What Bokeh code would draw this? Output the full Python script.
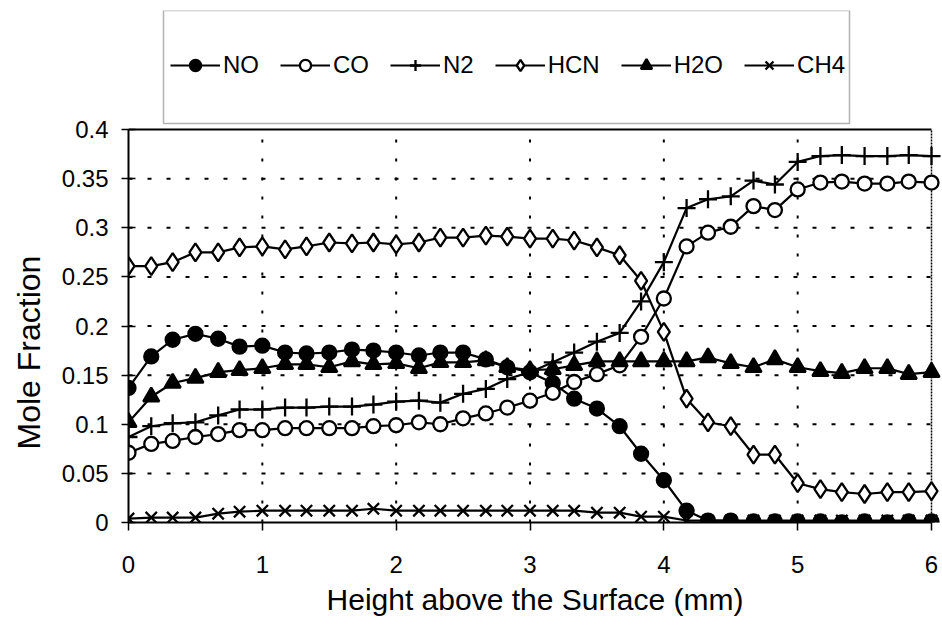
from bokeh.plotting import figure
from bokeh.models import (Legend, LegendItem, FixedTicker, BoxAnnotation, Range1d,
                          Title)
from bokeh.embed import file_html
from bokeh.resources import INLINE

# ---------------- data ----------------
height_mm = [0.00, 0.17, 0.33, 0.50, 0.67, 0.83, 1.00, 1.17, 1.33, 1.50,
             1.67, 1.83, 2.00, 2.17, 2.33, 2.50, 2.67, 2.83, 3.00, 3.17,
             3.33, 3.50, 3.67, 3.83, 4.00, 4.17, 4.33, 4.50, 4.67, 4.83,
             5.00, 5.17, 5.33, 5.50, 5.67, 5.83, 6.00]

no_frac = [0.137, 0.169, 0.186, 0.192, 0.187, 0.179, 0.180, 0.173, 0.172, 0.173,
           0.176, 0.175, 0.173, 0.170, 0.173, 0.173, 0.166, 0.158, 0.153, 0.142,
           0.126, 0.116, 0.098, 0.070, 0.043, 0.012, 0.002, 0.002, 0.001, 0.001,
           0.001, 0.001, 0.000, 0.001, 0.000, 0.001, 0.001]

co_frac = [0.071, 0.080, 0.083, 0.087, 0.090, 0.094, 0.094, 0.096, 0.096, 0.096,
           0.096, 0.098, 0.099, 0.102, 0.100, 0.106, 0.111, 0.117, 0.124, 0.132,
           0.143, 0.151, 0.160, 0.189, 0.228, 0.281, 0.295, 0.301, 0.322, 0.318,
           0.339, 0.346, 0.347, 0.345, 0.345, 0.347, 0.346]

n2_frac = [0.087, 0.098, 0.101, 0.102, 0.109, 0.115, 0.115, 0.117, 0.117, 0.118,
           0.118, 0.120, 0.123, 0.124, 0.122, 0.131, 0.136, 0.146, 0.153, 0.163,
           0.173, 0.184, 0.193, 0.225, 0.265, 0.320, 0.329, 0.332, 0.348, 0.344,
           0.367, 0.373, 0.374, 0.373, 0.373, 0.374, 0.373]

hcn_frac = [0.261, 0.261, 0.265, 0.275, 0.275, 0.280, 0.281, 0.278, 0.281, 0.285,
            0.284, 0.285, 0.283, 0.285, 0.290, 0.290, 0.292, 0.291, 0.289, 0.289,
            0.287, 0.280, 0.272, 0.246, 0.194, 0.126, 0.102, 0.098, 0.069, 0.069,
            0.040, 0.034, 0.031, 0.029, 0.031, 0.031, 0.032]

h2o_frac = [0.102, 0.128, 0.142, 0.147, 0.153, 0.155, 0.157, 0.161, 0.161, 0.158,
            0.164, 0.161, 0.162, 0.157, 0.163, 0.163, 0.165, 0.158, 0.155, 0.156,
            0.160, 0.164, 0.164, 0.164, 0.164, 0.164, 0.168, 0.162, 0.158, 0.166,
            0.158, 0.154, 0.152, 0.157, 0.157, 0.151, 0.153]

ch4_frac = [0.004, 0.005, 0.005, 0.005, 0.009, 0.011, 0.012, 0.012, 0.012, 0.012,
            0.012, 0.014, 0.012, 0.012, 0.012, 0.012, 0.012, 0.012, 0.012, 0.012,
            0.012, 0.010, 0.010, 0.006, 0.006, 0.002, 0.002, 0.002, 0.002, 0.002,
            0.002, 0.002, 0.002, 0.002, 0.002, 0.002, 0.002]

series_names = ["NO", "CO", "N2", "HCN", "H2O", "CH4"]

x_ticks = [0, 1, 2, 3, 4, 5, 6]
y_ticks = [0, 0.05, 0.1, 0.15, 0.2, 0.25, 0.3, 0.35, 0.4]
y_tick_labels = ["0", "0.05", "0.1", "0.15", "0.2", "0.25", "0.3", "0.35", "0.4"]

x_title = "Height above the Surface (mm)"
y_title = "Mole Fraction"

FONT = "Liberation Sans"

series = [no_frac, co_frac, n2_frac, hcn_frac, h2o_frac, ch4_frac]
markers = ["circle", "circle", "cross", "diamond", "triangle", "x"]
fills = ["black", "white", None, "white", "black", None]
sizes = [14, 14, 18, 18, 16, 16]

# ---------------- layout (page pixels) ----------------
W, H = 942, 627
F_LEFT, PLOT_RIGHT, F_RIGHT = 128, 931, 941   # frame left, data-area right, frame right
F_TOP, PLOT_TOP, F_BOTTOM = 10, 129, 522      # frame top, data-area top, bottom
X_MAX, Y_MAX = 6, 0.4
PX_PER_X = (PLOT_RIGHT - F_LEFT) / X_MAX
PX_PER_Y = (F_BOTTOM - PLOT_TOP) / Y_MAX
X_END = (F_RIGHT - F_LEFT) / PX_PER_X
Y_TOP = (F_BOTTOM - F_TOP) / PX_PER_Y

def px_x(px):
    return (px - F_LEFT) / PX_PER_X

def px_y(py):
    return (F_BOTTOM - py) / PX_PER_Y

p = figure(width=W, height=H, output_backend="svg", toolbar_location=None,
           x_range=Range1d(0, X_END), y_range=Range1d(0, Y_TOP),
           min_border_left=F_LEFT, min_border_right=W - F_RIGHT,
           min_border_top=F_TOP, min_border_bottom=H - F_BOTTOM)
p.background_fill_color = "white"
p.border_fill_color = "white"
p.outline_line_color = None

# axes
p.xaxis.ticker = FixedTicker(ticks=x_ticks)
p.xaxis.bounds = (0, X_MAX)
p.yaxis.ticker = FixedTicker(ticks=y_ticks)
p.yaxis.bounds = (0, Y_MAX)
p.yaxis.major_label_overrides = {t: s for t, s in zip(y_ticks, y_tick_labels)}
for ax in (p.xaxis[0], p.yaxis[0]):
    ax.axis_line_color = "black"
    ax.axis_line_width = 2
    ax.major_tick_line_color = "black"
    ax.major_tick_line_width = 1.5
    ax.minor_tick_line_color = None
    ax.major_label_text_font = FONT
    ax.major_label_text_font_size = "24px"
    ax.major_label_text_color = "black"
    ax.axis_label_text_font = FONT
    ax.axis_label_text_font_style = "normal"
    ax.axis_label_text_color = "black"
p.yaxis.major_tick_in = 7
p.yaxis.major_tick_out = 7
p.yaxis.major_label_standoff = 13
p.xaxis.major_tick_in = 0
p.xaxis.major_tick_out = 8
p.xaxis.major_label_standoff = 25

p.xaxis.axis_label = x_title
p.xaxis.axis_label_text_font_size = "30px"
p.xaxis.axis_label_standoff = 7

# y title in the left panel, shifted along the axis
p.add_layout(Title(text=y_title, align="left", offset=73, vertical_align="top",
                   standoff=20, text_font=FONT, text_font_size="32px",
                   text_font_style="normal", text_color="black"), "left")

# grid lines, drawn only over the data area
p.xgrid.visible = False
p.ygrid.visible = False
inner_x = x_ticks[1:-1]
p.segment(x0=inner_x, y0=[0] * len(inner_x), x1=inner_x, y1=[Y_MAX] * len(inner_x),
          line_color="black", line_width=2, line_dash="3 16")
inner_y = y_ticks[1:-1]
p.segment(x0=[0] * len(inner_y), y0=inner_y, x1=[X_MAX] * len(inner_y), y1=inner_y,
          line_color="black", line_width=2, line_dash="4 15")
# dotted right edge, as in the original
p.segment(x0=[X_MAX], y0=[0], x1=[X_MAX], y1=[Y_MAX],
          line_color="black", line_width=1.5, line_dash="2 1")

# plot-area top border
p.segment(x0=[0], y0=[Y_MAX], x1=[X_MAX], y1=[Y_MAX],
          line_color="black", line_width=1.8)

# ---------------- series ----------------
items = []
for name, ys, mk, fc, sz in zip(series_names, series, markers, fills, sizes):
    ln = p.line(height_mm, ys, line_color="black", line_width=2.2)
    sc = p.scatter(height_mm, ys, marker=mk, size=sz, line_color="black",
                   line_width=2.3, fill_color=fc)
    items.append(LegendItem(label=name, renderers=[ln, sc]))

# ---------------- legend (box + entries above the data area) ----------------
p.add_layout(BoxAnnotation(left=px_x(163), right=px_x(849),
                           top=px_y(10), bottom=px_y(123),
                           fill_color="white", fill_alpha=1.0,
                           line_color="black", line_width=1.5))

legend = Legend(items=items, orientation="horizontal",
                location=(170 - F_LEFT, F_BOTTOM - 79),
                padding=0, margin=0, spacing=21, glyph_width=50, glyph_height=28,
                label_height=28, label_standoff=3,
                border_line_alpha=0, background_fill_alpha=0,
                label_text_font=FONT, label_text_font_size="24px",
                label_text_color="black")
p.add_layout(legend, "center")

open("out.html", "w").write(file_html(p, INLINE))
